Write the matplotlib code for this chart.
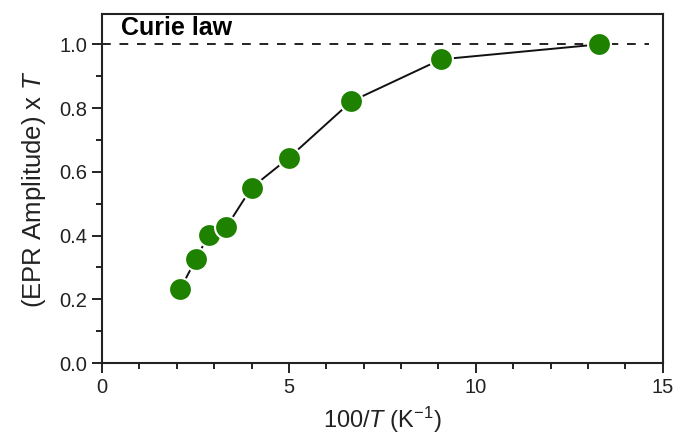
import matplotlib
matplotlib.use('Agg')
import matplotlib.pyplot as plt
from matplotlib.ticker import MultipleLocator

plt.rcParams['font.family'] = 'Liberation Sans'
plt.rcParams['mathtext.fontset'] = 'custom'
plt.rcParams['mathtext.rm'] = 'Liberation Sans'
plt.rcParams['mathtext.it'] = 'Liberation Sans:italic'

# 100/T (K^-1) and normalised EPR amplitude x T
inv_t = [2.09, 2.51, 2.85, 3.33, 4.0, 5.0, 6.67, 9.07, 13.3]
amp_t = [0.231, 0.325, 0.401, 0.427, 0.55, 0.644, 0.821, 0.953, 1.0]
curie_level = 1.0

fig = plt.figure(figsize=(6.75, 4.4), dpi=100)
ax = fig.add_axes([0.151, 0.175, 0.831, 0.793])

ax.axhline(curie_level, xmax=0.975, color='#222222', lw=1.4, ls=(0, (4.5, 4.5)), zorder=1)
ax.plot(inv_t, amp_t, color='#111111', lw=1.4, marker='o', ms=16.5,
        mfc='#1e8200', mec='white', mew=1.5, zorder=3)

ax.text(0.5, 1.015, 'Curie law', fontsize=18, fontweight='bold', va='bottom')

ax.set_xlim(0, 15)
ax.set_ylim(0, 1.095)
ax.xaxis.set_major_locator(MultipleLocator(5))
ax.xaxis.set_minor_locator(MultipleLocator(1))
ax.yaxis.set_major_locator(MultipleLocator(0.2))
ax.yaxis.set_minor_locator(MultipleLocator(0.1))
ax.yaxis.set_major_formatter(plt.FormatStrFormatter('%.1f'))
ax.tick_params(which='both', direction='out', width=1.4, labelsize=14.5, colors='#222222')
ax.tick_params(which='major', length=7)
ax.tick_params(which='minor', length=4)
for s in ax.spines.values():
    s.set_linewidth(1.5)
    s.set_color('#222222')

ax.set_xlabel('100/$\\it{T}$ (K$^{-1}$)', fontsize=17, color='#222222', labelpad=6)
ax.set_ylabel('(EPR Amplitude) x $\\it{T}$', fontsize=18.5, color='#222222', labelpad=8)

fig.savefig('out.png', dpi=100)
